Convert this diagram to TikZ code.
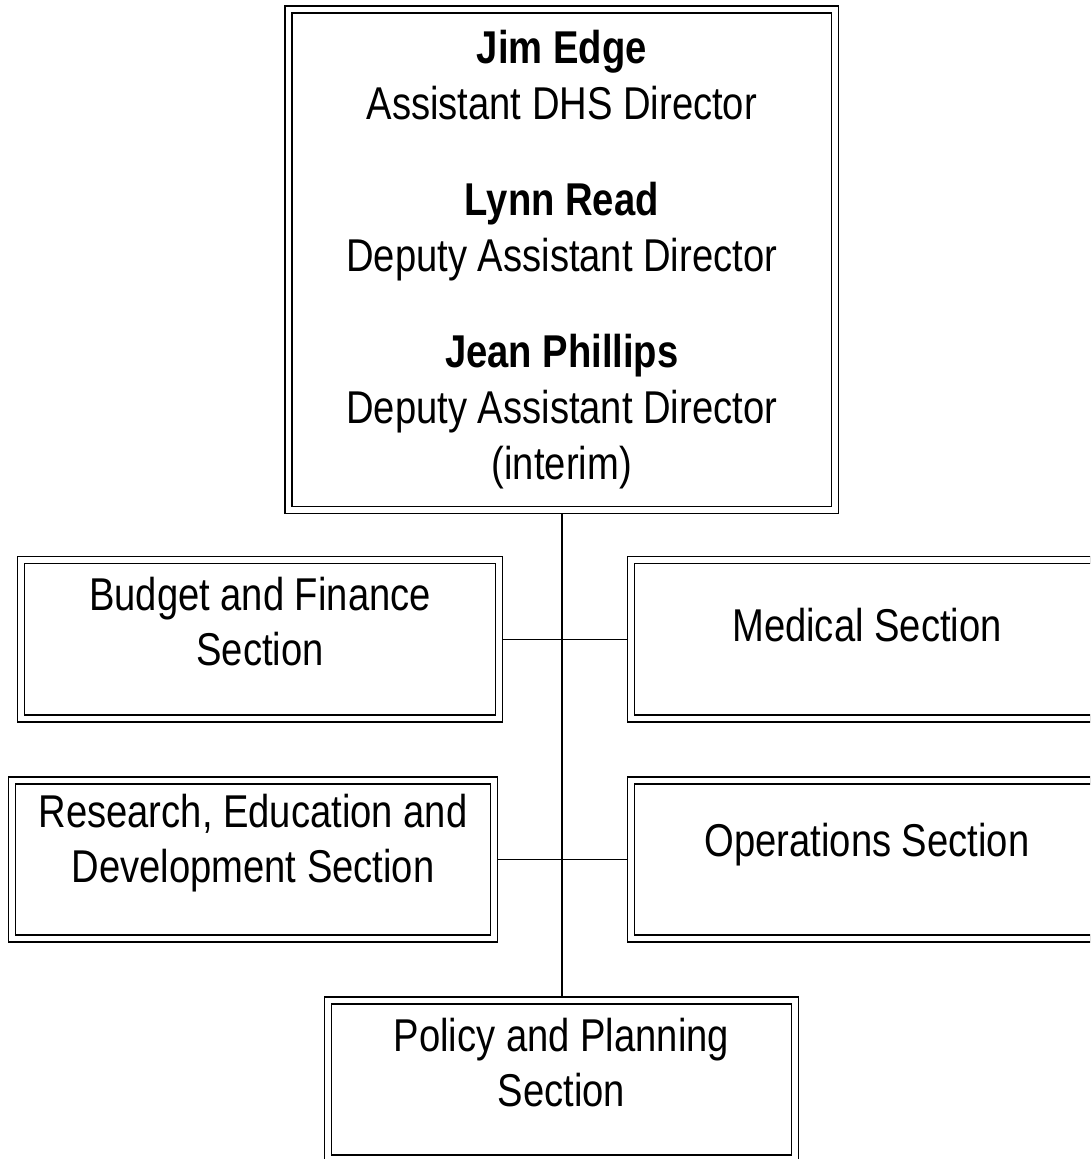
\documentclass[tikz,border=0pt]{standalone}
\usepackage{fontspec}
\setmainfont{Liberation Sans}[FakeStretch=0.83]
\usetikzlibrary{positioning, backgrounds}

\begin{document}
\begin{tikzpicture}[
    x=1pt, y=-1pt,
    frame/.style={rectangle, draw=black, line width=1.6pt, double=white, double distance=5.4pt, fill=white, inner sep=0pt},
    box/.style={frame, minimum width=546.5pt, minimum height=500.5pt, align=center, font=\fontsize{46}{56}\selectfont},
    sect/.style={frame, minimum height=158.5pt},
    txt/.style={align=center, inner sep=0pt, font=\fontsize{46}{55}\selectfont},
    link/.style={line width=1.5pt}
]
    \useasboundingbox (0,0) rectangle (1090,1159);
    \clip (0,0) rectangle (1090,1159);

    % Director's office
    \node[box] (head) at (561.75,259.75) {\textbf{Jim Edge}\\Assistant DHS Director\\[40pt]\textbf{Lynn Read}\\Deputy Assistant Director\\[40pt]\textbf{Jean Phillips}\\Deputy Assistant Director\\(interim)};

    % Sections - boxes
    \node[sect, minimum width=478pt] (budget) at (260,639.25) {};
    \node[sect, minimum width=472pt] (medical) at (867,639.25) {};
    \node[sect, minimum width=482pt] (research) at (253,859.5) {};
    \node[sect, minimum width=472pt] (ops) at (867,859.5) {};
    \node[sect, minimum width=467pt] (policy) at (561.5,1079.5) {};

    % Sections - names
    \node[txt] (budget-t) at ([yshift=17.75pt]budget.center) {Budget and Finance\\Section};
    \node[txt] (medical-t) at ([yshift=14pt]medical.center) {Medical Section};
    \node[txt] (research-t) at ([yshift=16pt]research.center) {Research, Education and\\Development Section};
    \node[txt] (ops-t) at ([yshift=14.5pt]ops.center) {Operations Section};
    \node[txt] (policy-t) at ([yshift=17pt]policy.center) {Policy and Planning\\Section};

    % Reporting lines
    \begin{scope}[on background layer]
        \draw[link] (head.south) -- (head.south |- policy.north);
        \draw[link] (budget.east) -- (medical.west);
        \draw[link] (research.east) -- (ops.west);
    \end{scope}
\end{tikzpicture}
\end{document}
